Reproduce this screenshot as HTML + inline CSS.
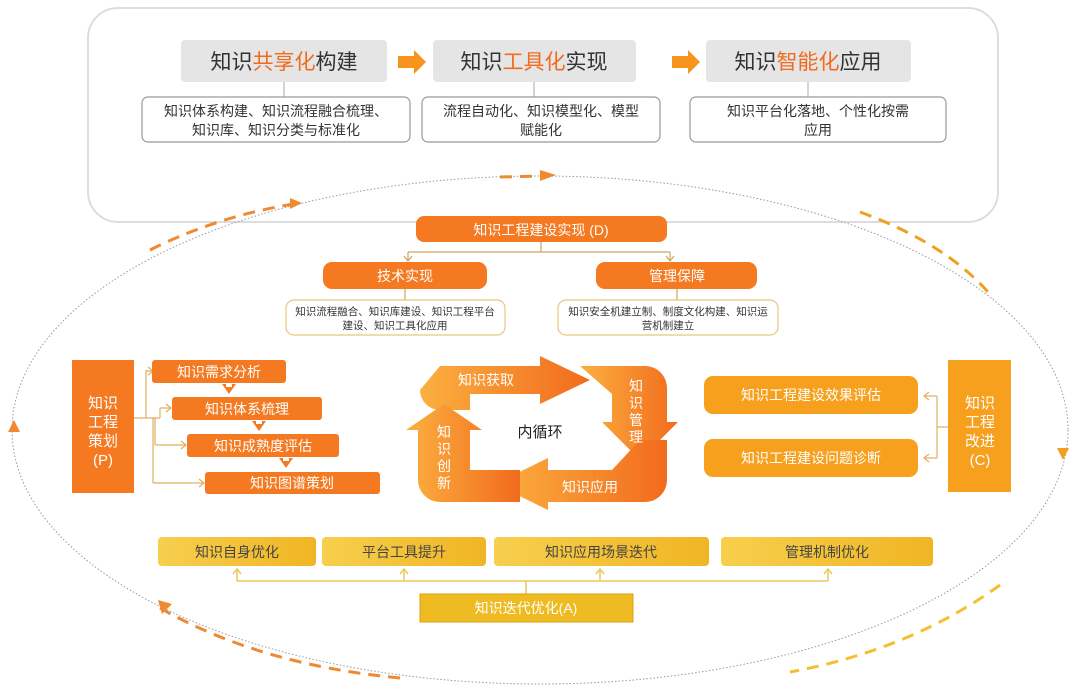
<!DOCTYPE html>
<html><head><meta charset="utf-8"><style>
body{margin:0;background:#fff;}
svg{display:block;font-family:"Liberation Sans","Noto Sans CJK SC",sans-serif;}
</style></head><body>
<svg width="1080" height="685" viewBox="0 0 1080 685" xmlns="http://www.w3.org/2000/svg">
<defs>
<linearGradient id="yg" x1="0" y1="0" x2="1" y2="0"><stop offset="0" stop-color="#f7cf4d"/><stop offset="1" stop-color="#f0b524"/></linearGradient>
<linearGradient id="ar" x1="0" y1="0" x2="1" y2="0"><stop offset="0" stop-color="#fbb040"/><stop offset="1" stop-color="#f26b1d"/></linearGradient>
</defs>
<rect x="88" y="8" width="910" height="214" rx="30" fill="#fff" stroke="#ddd" stroke-width="2"/>
<ellipse cx="540" cy="430" rx="528" ry="254" fill="none" stroke="#999" stroke-width="1" stroke-dasharray="1.5 2"/>
<path d="M 150 250 Q 220 215 300 203" fill="none" stroke="#f08a30" stroke-width="3" stroke-dasharray="12 8"/>
<polygon points="290,198 302,203 290,209" fill="#f08a30"/>
<path d="M 500 177 L 545 176" fill="none" stroke="#f08a30" stroke-width="3" stroke-dasharray="12 8"/>
<polygon points="540,170 556,175 540,181" fill="#f08a30"/>
<path d="M 860 212 Q 950 245 993 298" fill="none" stroke="#f0a020" stroke-width="3" stroke-dasharray="12 8"/>
<path d="M 1000 585 Q 910 650 790 672" fill="none" stroke="#f2c030" stroke-width="3" stroke-dasharray="12 8"/>
<path d="M 160 608 Q 260 665 400 678" fill="none" stroke="#f08a30" stroke-width="3" stroke-dasharray="12 8"/>
<polygon points="158,600 172,604 162,614" fill="#f08a30"/>
<polygon points="8,432 14,420 20,432" fill="#f08a30"/>
<polygon points="1057,448 1063,460 1069,448" fill="#f0a020"/>
<g font-size="21" text-anchor="middle" fill="#333">
<rect x="181" y="40" width="206" height="42" rx="4" fill="#e5e5e5"/>
<text x="284" y="69">知识<tspan fill="#f26b1d">共享化</tspan>构建</text>
<rect x="433" y="40" width="203" height="42" rx="4" fill="#e5e5e5"/>
<text x="534" y="69">知识<tspan fill="#f26b1d">工具化</tspan>实现</text>
<rect x="706" y="40" width="205" height="42" rx="4" fill="#e5e5e5"/>
<text x="808" y="69">知识<tspan fill="#f26b1d">智能化</tspan>应用</text>
</g>
<polygon points="398,56 414,56 414,50 426,62 414,74 414,68 398,68" fill="#f7941d"/>
<polygon points="672,56 688,56 688,50 700,62 688,74 688,68 672,68" fill="#f7941d"/>
<g stroke="#aaa" fill="none"><line x1="284" y1="82" x2="284" y2="97"/><line x1="534" y1="82" x2="534" y2="97"/><line x1="808" y1="82" x2="808" y2="97"/></g>
<g fill="#fff" stroke="#999" stroke-width="1.2"><rect x="142" y="97" width="268" height="45" rx="6"/><rect x="422" y="97" width="238" height="45" rx="6"/><rect x="690" y="97" width="256" height="45" rx="6"/></g>
<g font-size="14" text-anchor="middle" fill="#333">
<text x="276" y="116">知识体系构建、知识流程融合梳理、</text><text x="276" y="135">知识库、知识分类与标准化</text>
<text x="541" y="116">流程自动化、知识模型化、模型</text><text x="541" y="135">赋能化</text>
<text x="818" y="116">知识平台化落地、个性化按需</text><text x="818" y="135">应用</text>
</g>
<rect x="416" y="216" width="251" height="26" rx="8" fill="#f47920"/>
<text x="541" y="235" font-size="14" fill="#fff" text-anchor="middle">知识工程建设实现 (D)</text>
<g stroke="#c9a860" fill="none" stroke-width="1.2"><line x1="541" y1="242" x2="541" y2="252"/><line x1="408" y1="252" x2="670" y2="252"/><line x1="408" y1="252" x2="408" y2="260"/><line x1="670" y1="252" x2="670" y2="260"/>
<polyline points="404,256 408,261 412,256"/><polyline points="666,256 670,261 674,256"/>
<line x1="405" y1="289" x2="405" y2="300"/><line x1="677" y1="289" x2="677" y2="300"/></g>
<rect x="323" y="262" width="164" height="27" rx="9" fill="#f47920"/>
<rect x="596" y="262" width="161" height="27" rx="9" fill="#f47920"/>
<g font-size="14" fill="#fff" text-anchor="middle"><text x="405" y="281">技术实现</text><text x="677" y="281">管理保障</text></g>
<g fill="#fff" stroke="#e8c880" stroke-width="1.2"><rect x="286" y="300" width="219" height="35" rx="8"/><rect x="558" y="300" width="220" height="35" rx="8"/></g>
<g font-size="10.5" fill="#333" text-anchor="middle">
<text x="395" y="315">知识流程融合、知识库建设、知识工程平台</text><text x="395" y="329">建设、知识工具化应用</text>
<text x="668" y="315">知识安全机建立制、制度文化构建、知识运</text><text x="668" y="329">营机制建立</text>
</g>
<rect x="72" y="360" width="62" height="133" fill="#f47920"/>
<g font-size="15" fill="#fff" text-anchor="middle"><text x="103" y="408">知识</text><text x="103" y="427">工程</text><text x="103" y="446">策划</text><text x="103" y="465">(P)</text></g>
<g stroke="#e0b060" fill="none" stroke-width="1.2">
<line x1="134" y1="418" x2="160" y2="418"/><line x1="146" y1="370" x2="146" y2="418"/><line x1="146" y1="371" x2="152" y2="371"/>
<line x1="160" y1="408" x2="160" y2="418"/><line x1="160" y1="408" x2="170" y2="408"/>
<line x1="155" y1="418" x2="155" y2="445"/><line x1="155" y1="445" x2="185" y2="445"/>
<line x1="153" y1="418" x2="153" y2="483"/><line x1="153" y1="483" x2="203" y2="483"/>
<polyline points="148,367 153,371 148,375"/><polyline points="166,404 171,408 166,412"/><polyline points="181,441 186,445 181,449"/><polyline points="199,479 204,483 199,487"/>
</g>
<g fill="#f47920"><rect x="152" y="360" width="134" height="23" rx="3"/><rect x="172" y="397" width="150" height="23" rx="3"/><rect x="187" y="434" width="152" height="23" rx="3"/><rect x="205" y="472" width="175" height="22" rx="3"/>
<polygon points="226,387 232,387 232,384 236,384 229,394 222,384 226,384"/><polygon points="256,424 262,424 262,421 266,421 259,431 252,421 256,421"/><polygon points="283,461 289,461 289,458 293,458 286,468 279,458 283,458"/></g>
<g font-size="14" fill="#fff" text-anchor="middle"><text x="219" y="377">知识需求分析</text><text x="247" y="414">知识体系梳理</text><text x="263" y="451">知识成熟度评估</text><text x="292" y="488">知识图谱策划</text></g>
<g fill="url(#ar)">
<path d="M 440 366 L 540 366 L 540 356 L 590 380 L 540 404 L 540 394 L 470 394 L 470 410 L 440 410 A 20 20 0 0 1 420 390 Z"/>
<path d="M 580 366 L 645 366 A 22 22 0 0 1 667 388 L 667 422 L 678 422 L 640 460 L 602 422 L 612 422 L 612 394 Z"/>
<path d="M 667 440 L 667 480 A 22 22 0 0 1 645 502 L 548 502 L 548 510 L 495 484 L 548 458 L 548 470 L 612 470 L 640 440 Z"/>
<path d="M 520 502 L 440 502 A 22 22 0 0 1 418 480 L 418 430 L 406 430 L 444 404 L 482 430 L 470 430 L 470 470 L 520 470 Z"/>
</g>
<text x="540" y="437" font-size="15" fill="#222" text-anchor="middle">内循环</text>
<g font-size="14" fill="#fff" text-anchor="middle">
<text x="486" y="385">知识获取</text><text x="590" y="492">知识应用</text>
<text x="636" y="391">知</text><text x="636" y="408">识</text><text x="636" y="425">管</text><text x="636" y="442">理</text>
<text x="444" y="437">知</text><text x="444" y="454">识</text><text x="444" y="471">创</text><text x="444" y="488">新</text>
</g>
<rect x="948" y="360" width="63" height="132" fill="#f7a01d"/>
<g font-size="15" fill="#fff" text-anchor="middle"><text x="980" y="408">知识</text><text x="980" y="427">工程</text><text x="980" y="446">改进</text><text x="980" y="465">(C)</text></g>
<g stroke="#e0b060" fill="none" stroke-width="1.2"><line x1="948" y1="427" x2="937" y2="427"/><line x1="937" y1="396" x2="937" y2="458"/><line x1="937" y1="396" x2="924" y2="396"/><line x1="937" y1="458" x2="924" y2="458"/><polyline points="929,392 924,396 929,400"/><polyline points="929,454 924,458 929,462"/></g>
<rect x="704" y="376" width="214" height="38" rx="9" fill="#f7a01d"/><rect x="704" y="439" width="214" height="38" rx="9" fill="#f7a01d"/>
<g font-size="14" fill="#fff" text-anchor="middle"><text x="811" y="400">知识工程建设效果评估</text><text x="811" y="463">知识工程建设问题诊断</text></g>
<g fill="url(#yg)"><rect x="158" y="537" width="158" height="29" rx="4"/><rect x="322" y="537" width="164" height="29" rx="4"/><rect x="494" y="537" width="215" height="29" rx="4"/><rect x="721" y="537" width="212" height="29" rx="4"/></g>
<g font-size="14" fill="#444" text-anchor="middle"><text x="237" y="557">知识自身优化</text><text x="404" y="557">平台工具提升</text><text x="601" y="557">知识应用场景迭代</text><text x="827" y="557">管理机制优化</text></g>
<g stroke="#e8c860" fill="none" stroke-width="1.5">
<line x1="237" y1="581" x2="828" y2="581"/>
<line x1="237" y1="569" x2="237" y2="581"/><line x1="404" y1="569" x2="404" y2="581"/><line x1="600" y1="569" x2="600" y2="581"/><line x1="828" y1="569" x2="828" y2="581"/>
<line x1="526" y1="581" x2="526" y2="594"/>
<polyline points="233,574 237,569 241,574"/><polyline points="400,574 404,569 408,574"/><polyline points="596,574 600,569 604,574"/><polyline points="824,574 828,569 832,574"/></g>
<rect x="420" y="594" width="213" height="28" fill="#efbb22" stroke="#d9a010"/>
<text x="526" y="613" font-size="14" fill="#fff" text-anchor="middle">知识迭代优化(A)</text>
</svg>
</body></html>
